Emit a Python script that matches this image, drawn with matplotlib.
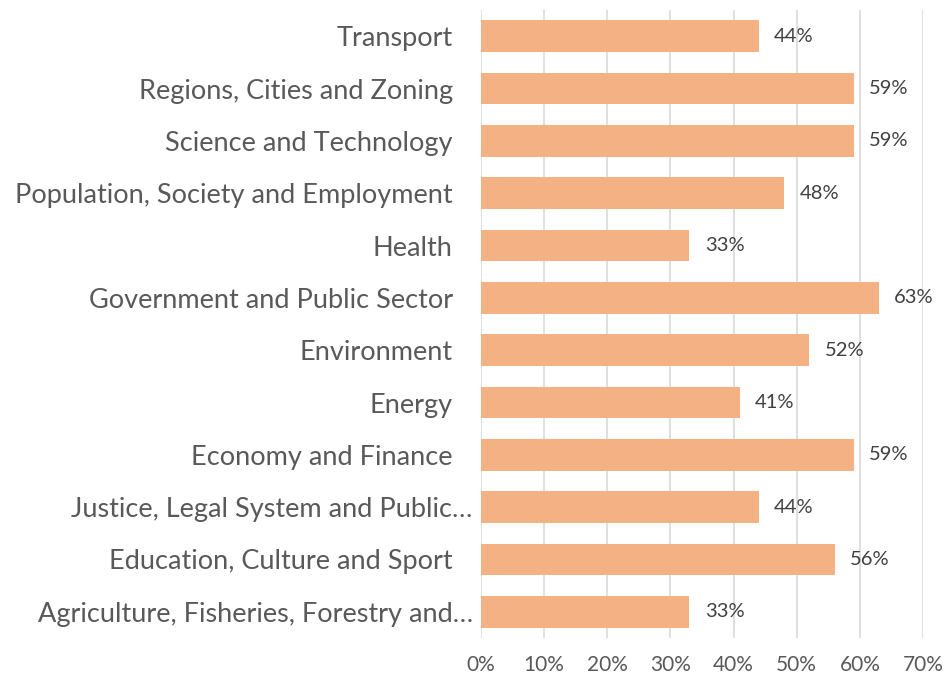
import matplotlib.pyplot as plt
import matplotlib.transforms as mtransforms
from matplotlib.ticker import PercentFormatter

plt.rcParams['font.family'] = ['Lato', 'DejaVu Sans']

# categories from top to bottom, as shown
categories = [
    "Transport",
    "Regions, Cities and Zoning",
    "Science and Technology",
    "Population, Society and Employment",
    "Health",
    "Government and Public Sector",
    "Environment",
    "Energy",
    "Economy and Finance",
    "Justice, Legal System and Public\u2026",
    "Education, Culture and Sport",
    "Agriculture, Fisheries, Forestry and\u2026",
]
shares = [44, 59, 59, 48, 33, 63, 52, 41, 59, 44, 56, 33]

bar_color = "#F4B183"
text_color = "#595959"

fig = plt.figure(figsize=(9.46, 6.77), dpi=100)
ax = fig.add_axes([481 / 946, 39 / 677, 442 / 946, 628 / 677])

pos = list(range(len(categories)))
ax.barh(pos, shares, height=0.61, color=bar_color, zorder=3)

for p, v in zip(pos, shares):
    ax.annotate(f"{v}%", (v, p), xytext=(11, 0), textcoords="offset points",
                va="center", ha="left", fontsize=14.5, color="#404040")

ax.set_xlim(0, 70)
ax.set_xticks(range(0, 71, 10))
ax.xaxis.set_major_formatter(PercentFormatter(decimals=0))
ax.set_ylim(len(categories) - 0.5, -0.5)
ax.set_yticks(pos)
ax.set_yticklabels(categories)

ax.grid(axis="x", color="#D9D9D9", linewidth=1.2, zorder=0)
for s in ax.spines.values():
    s.set_visible(False)
ax.tick_params(axis="both", length=0, colors=text_color, labelsize=19.5)
ax.tick_params(axis="x", pad=12, labelsize=15)
ax.tick_params(axis="y", pad=6)

# labels not cut off sit a bit further left (trailing space in the source)
shift = mtransforms.ScaledTranslation(-20 / 100, 0, fig.dpi_scale_trans)
for lab in ax.get_yticklabels():
    if not lab.get_text().endswith("\u2026"):
        lab.set_transform(lab.get_transform() + shift)

fig.savefig("out.png", dpi=100)
